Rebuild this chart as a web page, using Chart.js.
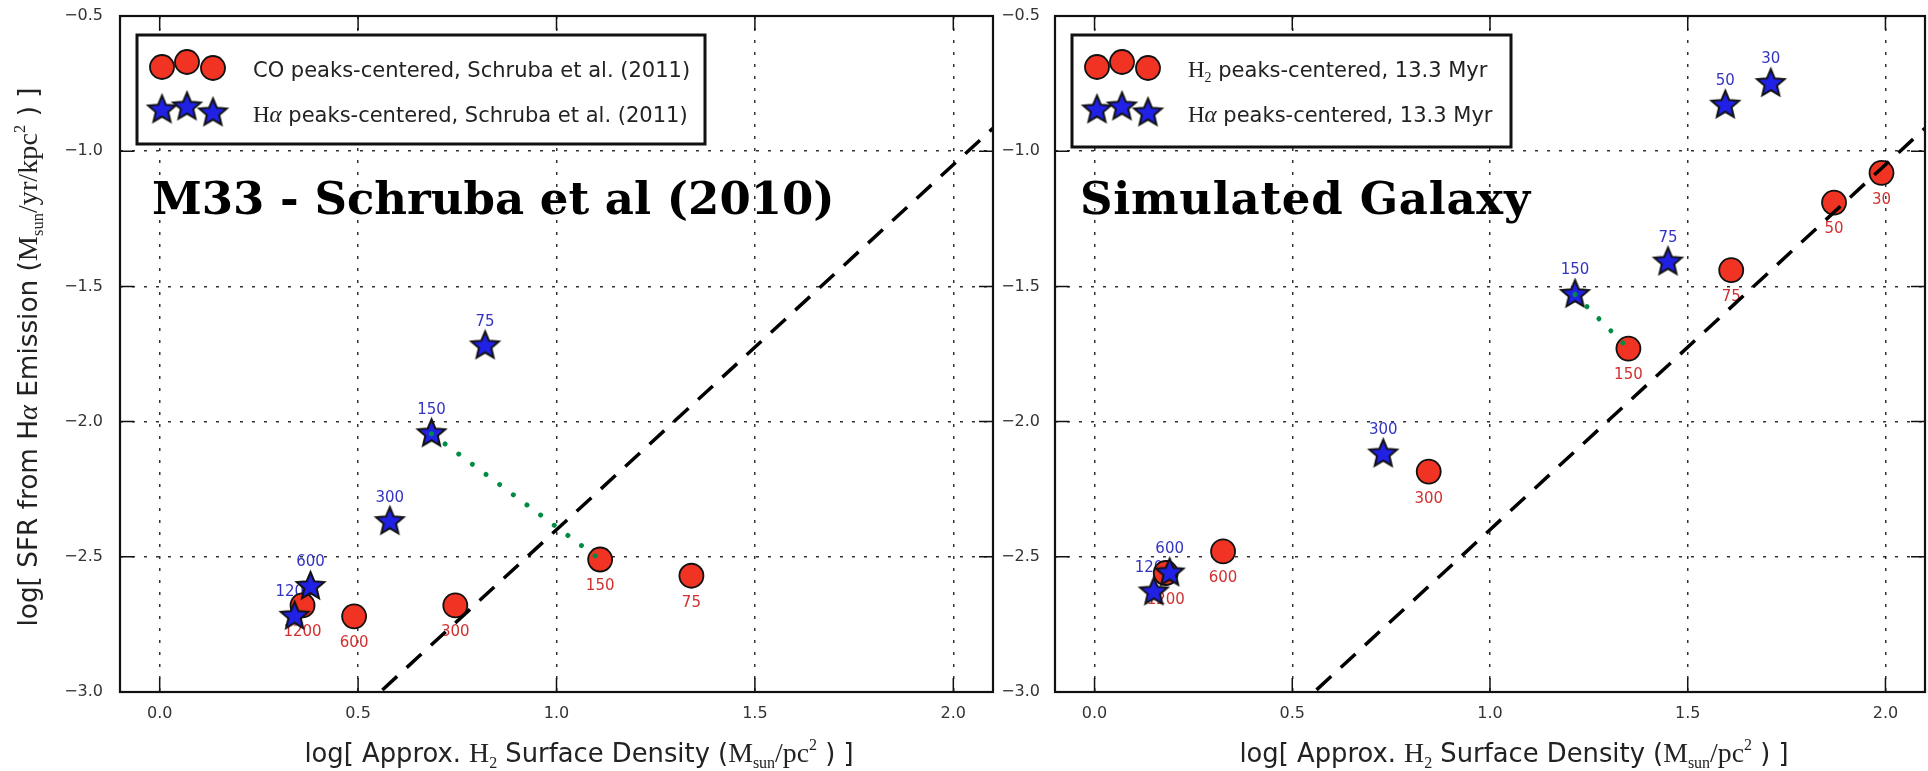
<!DOCTYPE html>
<html>
<head>
<meta charset="utf-8">
<script src="https://cdn.jsdelivr.net/npm/chart.js@4.4.1/dist/chart.umd.min.js"></script>
<style>
  html, body { margin: 0; padding: 0; background: #fff; }
  body { width: 1928px; height: 771px; position: relative; overflow: hidden; }
  canvas { position: absolute; top: 0; }
  #m33 { left: 0; }
  #sim { left: 1000px; }
</style>
</head>
<body>
<canvas id="m33" width="1000" height="771"></canvas>
<canvas id="sim" width="928" height="771"></canvas>
<script>
// aperture size (pc) written next to each point
const m33Sizes = ['1200', '600', '300', '150', '75'];
// CO peaks-centered apertures
const m33CoX = [0.36, 0.49, 0.745, 1.11, 1.34];
const m33CoY = [-2.68, -2.72, -2.68, -2.51, -2.57];
// Halpha peaks-centered apertures
const m33HaX = [0.34, 0.38, 0.58, 0.685, 0.82];
const m33HaY = [-2.72, -2.61, -2.37, -2.045, -1.72];

const simSizes = ['1200', '600', '300', '150', '75', '50', '30'];
const simH2X = [0.18, 0.325, 0.845, 1.35, 1.61, 1.87, 1.99];
const simH2Y = [-2.56, -2.48, -2.185, -1.73, -1.44, -1.19, -1.08];
const simHaX = [0.15, 0.19, 0.73, 1.215, 1.45, 1.595, 1.71];
const simHaY = [-2.63, -2.56, -2.12, -1.53, -1.41, -0.83, -0.75];

// Kennicutt-Schmidt reference relation
const ksX = [0.5, 2.1];
const ksY = [-3.075, -0.915];

const xTicks = [0.0, 0.5, 1.0, 1.5, 2.0];
const yTicks = [-3.0, -2.5, -2.0, -1.5, -1.0, -0.5];

const SANS = 'DejaVu Sans';
const SERIF = 'Liberation Serif';
const RED = '#f03322';
const BLUE = '#2121e6';

function starImage(R) {
  const size = Math.ceil(R * 2 + 6);
  const c = document.createElement('canvas');
  c.width = c.height = size;
  const g = c.getContext('2d');
  const r = R * 0.45;
  g.beginPath();
  for (let i = 0; i < 10; i++) {
    const a = -Math.PI / 2 + i * Math.PI / 5;
    const rad = i % 2 ? r : R;
    g.lineTo(size / 2 + rad * Math.cos(a), size / 2 + rad * Math.sin(a));
  }
  g.closePath();
  g.fillStyle = BLUE;
  g.fill();
  g.lineWidth = 2;
  g.strokeStyle = '#111';
  g.stroke();
  return c;
}
const star = starImage(14.5);

const pts = (xs, ys) => xs.map((x, i) => ({ x: x, y: ys[i] }));
const tickText = v => (v < 0 ? '\u2212' : '') + Math.abs(v).toFixed(1);

// draw a row of text pieces with their own fonts and baseline shifts
function drawRuns(ctx, runs, x, y, center, vertical) {
  ctx.save();
  ctx.translate(x, y);
  if (vertical) ctx.rotate(-Math.PI / 2);
  const widths = runs.map(r => { ctx.font = r[1]; return ctx.measureText(r[0]).width; });
  let cx = center ? -widths.reduce((a, b) => a + b, 0) / 2 : 0;
  ctx.textAlign = 'left';
  ctx.textBaseline = 'alphabetic';
  runs.forEach((r, i) => {
    ctx.font = r[1];
    ctx.fillText(r[0], cx, r[2] || 0);
    cx += widths[i];
  });
  ctx.restore();
}

const sans = s => s + 'px "' + SANS + '"';
const serif = s => s + 'px "' + SERIF + '"';

const xTitle = [
  ['log[ Approx. ', sans(25.8)], ['H', serif(27.8)], ['2', serif(16), 6],
  [' Surface Density (', sans(25.8)], ['M', serif(27.8)], ['sun', serif(16), 6],
  ['/pc', serif(27.8)], ['2', serif(16), -12], [' ) ]', sans(25.8)]
];
const yTitle = [
  ['log[ SFR from H', sans(26.3)], ['\u03b1', 'italic ' + serif(28.3)], [' Emission (', sans(26.3)],
  ['M', serif(28.3)], ['sun', serif(16.5), 6], ['/yr/kpc', serif(28.3)], ['2', serif(16.5), -12],
  [' ) ]', sans(26.3)]
];

// small numbers beside the markers
const pointLabels = {
  id: 'pointLabels',
  beforeDatasetsDraw(chart) {
    const ctx = chart.ctx;
    chart.data.datasets.forEach((ds, i) => {
      if (!ds.tags) return;
      const meta = chart.getDatasetMeta(i);
      ctx.save();
      ctx.font = sans(15);
      ctx.fillStyle = ds.tagColor;
      ctx.textAlign = 'center';
      ctx.textBaseline = 'middle';
      meta.data.forEach((p, j) => ctx.fillText(ds.tags[j], p.x, p.y + ds.tagShift));
      ctx.restore();
    });
  }
};

// axes box with inward ticks on all four sides
const frame = {
  id: 'frame',
  afterDraw(chart) {
    const { ctx, chartArea: a, scales: { x, y } } = chart;
    ctx.save();
    ctx.strokeStyle = '#111';
    ctx.lineWidth = 1.5;
    ctx.beginPath();
    xTicks.forEach(v => {
      const px = x.getPixelForValue(v);
      ctx.moveTo(px, a.bottom); ctx.lineTo(px, a.bottom - 14);
      ctx.moveTo(px, a.top); ctx.lineTo(px, a.top + 14);
    });
    yTicks.forEach(v => {
      const py = y.getPixelForValue(v);
      ctx.moveTo(a.left, py); ctx.lineTo(a.left + 14, py);
      ctx.moveTo(a.right, py); ctx.lineTo(a.right - 14, py);
    });
    ctx.stroke();
    ctx.lineWidth = 2.2;
    ctx.strokeRect(a.left, a.top, a.right - a.left, a.bottom - a.top);
    ctx.restore();
  }
};

function decor(cfg) {
  return {
    id: 'decor',
    afterDraw(chart) {
      const ctx = chart.ctx;
      ctx.save();
      ctx.fillStyle = '#000';
      ctx.font = 'bold 45px "DejaVu Serif"';
      ctx.textBaseline = 'alphabetic';
      ctx.letterSpacing = (cfg.titleSpacing || 0) + 'px';
      ctx.fillText(cfg.title, cfg.titleX, 214);
      ctx.letterSpacing = '0px';

      // legend box
      const L = cfg.legend;
      ctx.fillStyle = '#fff';
      ctx.fillRect(L.x, 35, L.w, L.h);
      ctx.lineWidth = 3;
      ctx.strokeStyle = '#111';
      ctx.strokeRect(L.x, 35, L.w, L.h);
      const mx = [25, 50, 76];
      const cy = [67, 62, 68];
      const sy = [110, 107, 113];
      mx.forEach((dx, i) => {
        ctx.beginPath();
        ctx.arc(L.x + dx, cy[i], 12, 0, Math.PI * 2);
        ctx.fillStyle = RED;
        ctx.fill();
        ctx.lineWidth = 1.8;
        ctx.strokeStyle = '#111';
        ctx.stroke();
      });
      mx.forEach((dx, i) => ctx.drawImage(star, L.x + dx - star.width / 2, sy[i] - star.height / 2));
      ctx.fillStyle = '#222';
      drawRuns(ctx, L.row1, L.x + 116, 77, false, false);
      drawRuns(ctx, L.row2, L.x + 116, 122, false, false);

      // axis titles
      ctx.fillStyle = '#222';
      drawRuns(ctx, xTitle, cfg.xTitleX, 762, true, false);
      if (cfg.yTitle) drawRuns(ctx, yTitle, 37, 357, true, true);
      ctx.restore();
    }
  };
}

// the plot box is placed by the layout padding alone
function noEdgePadding(s) {
  s.paddingLeft = 0;
  s.paddingRight = 0;
  s.paddingTop = 0;
  s.paddingBottom = 0;
}

function panel(id, cfg) {
  const link = cfg.sizes.indexOf('150');
  const datasets = [
    {
      type: 'line', data: [{ x: cfg.haX[link], y: cfg.haY[link] }, { x: cfg.coX[link], y: cfg.coY[link] }],
      borderColor: '#008c45', borderWidth: 5, borderDash: [0.01, 17], borderCapStyle: 'round',
      pointRadius: 0, fill: false
    },
    {
      type: 'line', data: pts(ksX, ksY), borderColor: '#000', borderWidth: 3.5,
      borderDash: [20, 13], pointRadius: 0, fill: false
    },
    {
      data: pts(cfg.haX, cfg.haY), pointStyle: star, pointRadius: 15,
      tags: cfg.sizes, tagColor: '#3434c2', tagShift: -24
    },
    {
      data: pts(cfg.coX, cfg.coY), pointStyle: 'circle', pointRadius: 12,
      backgroundColor: RED, borderColor: '#111', borderWidth: 1.8,
      tags: cfg.sizes, tagColor: '#d23030', tagShift: 27
    }
  ];
  const axisFont = { family: SANS, size: 16 };
  return new Chart(document.getElementById(id), {
    type: 'scatter',
    data: { datasets: datasets },
    options: {
      responsive: false,
      animation: false,
      devicePixelRatio: 1,
      events: [],
      layout: { autoPadding: false, padding: { top: 16, right: cfg.padRight, left: 0, bottom: 0 } },
      plugins: { legend: { display: false }, tooltip: { enabled: false } },
      scales: {
        x: {
          type: 'linear', min: -0.1, max: 2.1,
          afterBuildTicks: s => { s.ticks = xTicks.map(v => ({ value: v })); },
          afterFit: s => { s.height = 79; noEdgePadding(s); },
          grid: { color: 'rgba(0,0,0,0.8)', lineWidth: 1.5, drawTicks: false },
          border: { display: false, dash: [3, 9] },
          ticks: { padding: 12, font: axisFont, color: '#333', callback: tickText }
        },
        y: {
          type: 'linear', min: -3.0, max: -0.5,
          afterBuildTicks: s => { s.ticks = yTicks.map(v => ({ value: v })); },
          afterFit: s => { s.width = cfg.yWidth; noEdgePadding(s); },
          grid: { color: 'rgba(0,0,0,0.8)', lineWidth: 1.5, drawTicks: false },
          border: { display: false, dash: [3, 9] },
          ticks: { padding: cfg.yPad, font: axisFont, color: '#333', callback: tickText }
        }
      }
    },
    plugins: [pointLabels, frame, decor(cfg)]
  });
}

panel('m33', {
  sizes: m33Sizes, coX: m33CoX, coY: m33CoY, haX: m33HaX, haY: m33HaY,
  padRight: 7, yWidth: 120, yPad: 17,
  title: 'M33 - Schruba et al (2010)', titleX: 152,
  xTitleX: 579, yTitle: true,
  legend: {
    x: 137, w: 568, h: 109,
    row1: [['CO peaks-centered, Schruba et al. (2011)', sans(21)]],
    row2: [['H', serif(23)], ['\u03b1', 'italic ' + serif(23)], [' peaks-centered, Schruba et al. (2011)', sans(21)]]
  }
});

panel('sim', {
  sizes: simSizes, coX: simH2X, coY: simH2Y, haX: simHaX, haY: simHaY,
  padRight: 3, yWidth: 55, yPad: 15,
  title: 'Simulated Galaxy', titleX: 80, titleSpacing: 0.7,
  xTitleX: 514, yTitle: false,
  legend: {
    x: 72, w: 439, h: 112,
    row1: [['H', serif(23)], ['2', serif(14), 5], [' peaks-centered, 13.3 Myr', sans(21)]],
    row2: [['H', serif(23)], ['\u03b1', 'italic ' + serif(23)], [' peaks-centered, 13.3 Myr', sans(21)]]
  }
});
</script>
</body>
</html>
